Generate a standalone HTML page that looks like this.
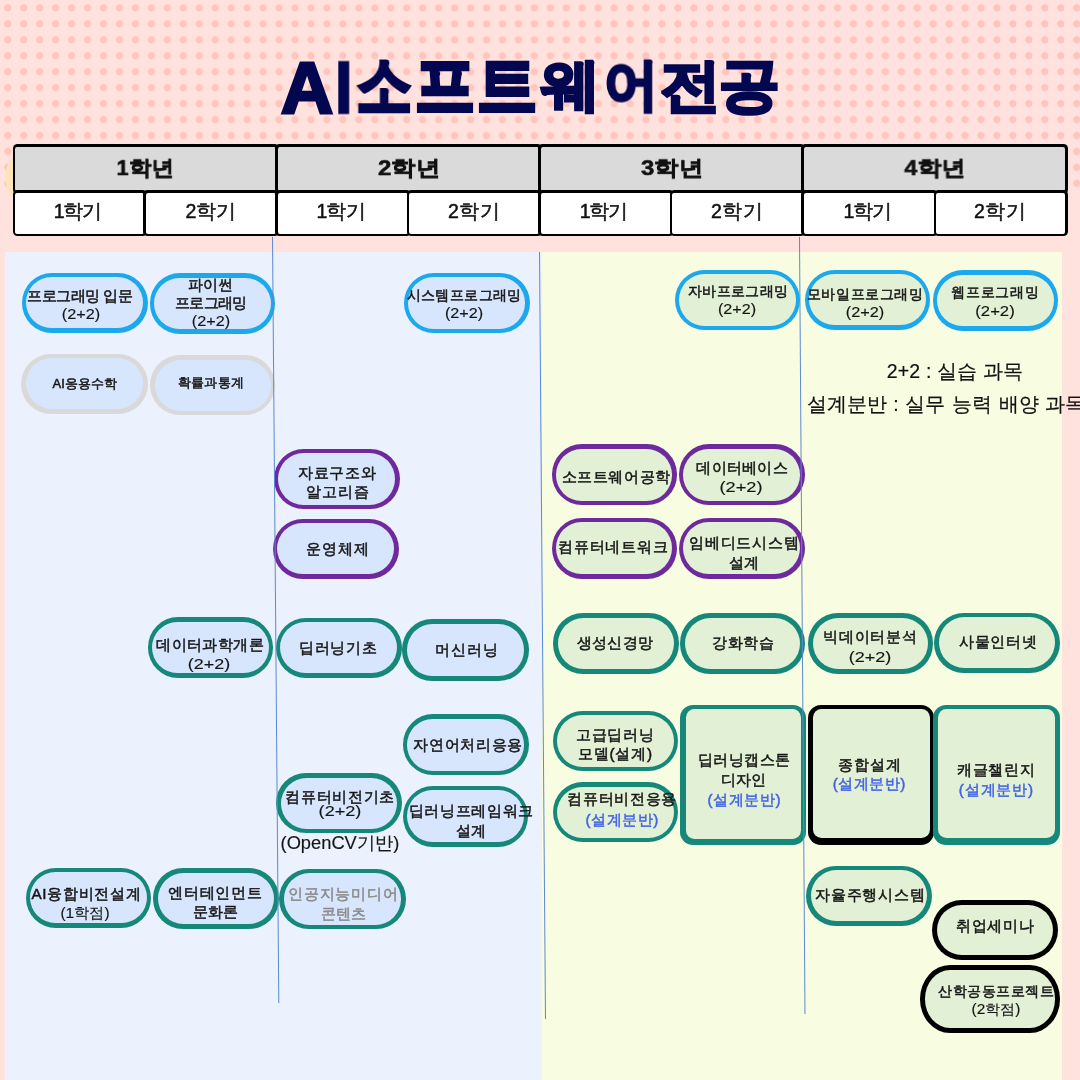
<!DOCTYPE html>
<html><head><meta charset="utf-8"><style>
*{margin:0;padding:0;box-sizing:border-box}
html,body{width:1080px;height:1080px;overflow:hidden;background:#FFE1DD;font-family:"Liberation Sans",sans-serif}
.a{position:absolute}
.dots{left:0;top:0;width:1080px;height:192px;background-image:radial-gradient(circle at 7.9px 7.9px,#FFC4BC 3.3px,transparent 3.9px);background-size:15.96px 15.96px}
.bx{position:absolute}
.t{position:absolute;white-space:nowrap;color:#151515;will-change:transform}
.hc{position:absolute;border:3px solid #000;border-radius:4px}
</style></head><body>

<div class="a dots"></div>
<div class="a" style="left:5px;top:148px;width:58px;height:58px;border-radius:50%;background:#FFE4B8"></div>
<div class="a" style="left:4.5px;top:252px;width:537px;height:828px;background:#EBF1FD"></div>
<div class="a" style="left:541.5px;top:252px;width:520.5px;height:828px;background:#F8FCE1"></div>
<div class="t ti" style="left:0;top:0;font-size:72px;line-height:72px;font-weight:bold;color:#03074F;-webkit-text-stroke:3px #03074F;transform-origin:0 0;transform:translate(280.9px,51.54px) scale(1.0019,1.0058)">A</div>
<div class="t ti" style="left:0;top:0;font-size:72px;line-height:72px;font-weight:bold;color:#03074F;-webkit-text-stroke:3px #03074F;transform-origin:0 0;transform:translate(335.56px,51.54px) scale(0.8143,1.0058)">I</div>
<div class="t ti" style="left:0;top:0;font-size:56px;line-height:56px;font-weight:bold;color:#03074F;-webkit-text-stroke:3px #03074F;transform-origin:0 0;transform:translate(356.5px,51.8px) scale(0.9911,1.2)">소</div>
<div class="t ti" style="left:0;top:0;font-size:56px;line-height:56px;font-weight:bold;color:#03074F;-webkit-text-stroke:3px #03074F;transform-origin:0 0;transform:translate(415.47px,51.69px) scale(1.0673,1.2262)">프</div>
<div class="t ti" style="left:0;top:0;font-size:56px;line-height:56px;font-weight:bold;color:#03074F;-webkit-text-stroke:3px #03074F;transform-origin:0 0;transform:translate(476.56px,51.69px) scale(1.0692,1.2262)">트</div>
<div class="t ti" style="left:0;top:0;font-size:56px;line-height:56px;font-weight:bold;color:#03074F;-webkit-text-stroke:3px #03074F;transform-origin:0 0;transform:translate(540.66px,56.59px) scale(1.0627,1.0037)">웨</div>
<div class="t ti" style="left:0;top:0;font-size:56px;line-height:56px;font-weight:bold;color:#03074F;-webkit-text-stroke:3px #03074F;transform-origin:0 0;transform:translate(604.08px,56.59px) scale(0.9745,1.0037)">어</div>
<div class="t ti" style="left:0;top:0;font-size:56px;line-height:56px;font-weight:bold;color:#03074F;-webkit-text-stroke:3px #03074F;transform-origin:0 0;transform:translate(660.12px,57.76px) scale(1.084,1.0132)">전</div>
<div class="t ti" style="left:0;top:0;font-size:56px;line-height:56px;font-weight:bold;color:#03074F;-webkit-text-stroke:3px #03074F;transform-origin:0 0;transform:translate(719.22px,55.59px) scale(1.0885,1.0423)">공</div>
<div class="a" style="left:12.7px;top:144.4px;width:266.3px;height:49.2px;background:#000;border-radius:4.5px"><div style="position:absolute;left:2.8px;top:2.8px;right:2.8px;bottom:2.8px;background:#DADADA;border-radius:2px"></div></div>
<div class="a" style="left:12.7px;top:189.8px;width:134.15px;height:46.6px;background:#000;border-radius:4.5px"><div style="position:absolute;left:2.8px;top:2.8px;right:2.8px;bottom:2.8px;background:#fff;border-radius:2px"></div></div>
<div class="a" style="left:142.85px;top:189.8px;width:136.15px;height:46.6px;background:#000;border-radius:4.5px"><div style="position:absolute;left:2.8px;top:2.8px;right:2.8px;bottom:2.8px;background:#fff;border-radius:2px"></div></div>
<div class="a" style="left:275px;top:144.4px;width:267px;height:49.2px;background:#000;border-radius:4.5px"><div style="position:absolute;left:2.8px;top:2.8px;right:2.8px;bottom:2.8px;background:#DADADA;border-radius:2px"></div></div>
<div class="a" style="left:275px;top:189.8px;width:135.5px;height:46.6px;background:#000;border-radius:4.5px"><div style="position:absolute;left:2.8px;top:2.8px;right:2.8px;bottom:2.8px;background:#fff;border-radius:2px"></div></div>
<div class="a" style="left:406.5px;top:189.8px;width:135.5px;height:46.6px;background:#000;border-radius:4.5px"><div style="position:absolute;left:2.8px;top:2.8px;right:2.8px;bottom:2.8px;background:#fff;border-radius:2px"></div></div>
<div class="a" style="left:538px;top:144.4px;width:267.4px;height:49.2px;background:#000;border-radius:4.5px"><div style="position:absolute;left:2.8px;top:2.8px;right:2.8px;bottom:2.8px;background:#DADADA;border-radius:2px"></div></div>
<div class="a" style="left:538px;top:189.8px;width:135.7px;height:46.6px;background:#000;border-radius:4.5px"><div style="position:absolute;left:2.8px;top:2.8px;right:2.8px;bottom:2.8px;background:#fff;border-radius:2px"></div></div>
<div class="a" style="left:669.7px;top:189.8px;width:135.7px;height:46.6px;background:#000;border-radius:4.5px"><div style="position:absolute;left:2.8px;top:2.8px;right:2.8px;bottom:2.8px;background:#fff;border-radius:2px"></div></div>
<div class="a" style="left:801.4px;top:144.4px;width:266.3px;height:49.2px;background:#000;border-radius:4.5px"><div style="position:absolute;left:2.8px;top:2.8px;right:2.8px;bottom:2.8px;background:#DADADA;border-radius:2px"></div></div>
<div class="a" style="left:801.4px;top:189.8px;width:136.15px;height:46.6px;background:#000;border-radius:4.5px"><div style="position:absolute;left:2.8px;top:2.8px;right:2.8px;bottom:2.8px;background:#fff;border-radius:2px"></div></div>
<div class="a" style="left:933.55px;top:189.8px;width:134.15px;height:46.6px;background:#000;border-radius:4.5px"><div style="position:absolute;left:2.8px;top:2.8px;right:2.8px;bottom:2.8px;background:#fff;border-radius:2px"></div></div>
<div class="bx" style="left:21.5px;top:272.8px;width:126.4px;height:60.2px;background:#1BA8ED;border-radius:30px/30.1px"><div style="position:absolute;left:4.5px;top:4.5px;right:4.5px;bottom:4.5px;background:#D7E6FC;border-radius:25.5px/25.6px"></div></div>
<div class="bx" style="left:149.5px;top:273.4px;width:125.8px;height:60.3px;background:#1BA8ED;border-radius:30px/30.15px"><div style="position:absolute;left:4.5px;top:4.5px;right:4.5px;bottom:4.5px;background:#D7E6FC;border-radius:25.5px/25.65px"></div></div>
<div class="bx" style="left:21.25px;top:353.75px;width:126.25px;height:60px;background:#D9D9D9;border-radius:30px/30px"><div style="position:absolute;left:4.5px;top:4.5px;right:4.5px;bottom:4.5px;background:#D7E6FC;border-radius:25.5px/25.5px"></div></div>
<div class="bx" style="left:150px;top:355px;width:125px;height:60px;background:#D9D9D9;border-radius:30px/30px"><div style="position:absolute;left:4.5px;top:4.5px;right:4.5px;bottom:4.5px;background:#D7E6FC;border-radius:25.5px/25.5px"></div></div>
<div class="bx" style="left:403.6px;top:272.5px;width:126px;height:60.5px;background:#1BA8ED;border-radius:30px/30.25px"><div style="position:absolute;left:4.5px;top:4.5px;right:4.5px;bottom:4.5px;background:#D7E6FC;border-radius:25.5px/25.75px"></div></div>
<div class="bx" style="left:674.9px;top:269.5px;width:125.4px;height:60.5px;background:#1BA8ED;border-radius:30px/30.25px"><div style="position:absolute;left:4.5px;top:4.5px;right:4.5px;bottom:4.5px;background:#E2F0D5;border-radius:25.5px/25.75px"></div></div>
<div class="bx" style="left:804.9px;top:269.8px;width:125.4px;height:60.2px;background:#1BA8ED;border-radius:30px/30.1px"><div style="position:absolute;left:4.5px;top:4.5px;right:4.5px;bottom:4.5px;background:#E2F0D5;border-radius:25.5px/25.6px"></div></div>
<div class="bx" style="left:932.8px;top:270.4px;width:125.7px;height:60.3px;background:#1BA8ED;border-radius:30px/30.15px"><div style="position:absolute;left:4.5px;top:4.5px;right:4.5px;bottom:4.5px;background:#E2F0D5;border-radius:25.5px/25.65px"></div></div>
<div class="bx" style="left:273.6px;top:448.6px;width:126.1px;height:60.8px;background:#6E2A9C;border-radius:30px/30.4px"><div style="position:absolute;left:4.5px;top:4.5px;right:4.5px;bottom:4.5px;background:#D7E6FC;border-radius:25.5px/25.9px"></div></div>
<div class="bx" style="left:272.6px;top:518.5px;width:126.4px;height:60.4px;background:#6E2A9C;border-radius:30px/30.2px"><div style="position:absolute;left:4.5px;top:4.5px;right:4.5px;bottom:4.5px;background:#D7E6FC;border-radius:25.5px/25.7px"></div></div>
<div class="bx" style="left:551.9px;top:444.4px;width:125.1px;height:60.7px;background:#6E2A9C;border-radius:30px/30.35px"><div style="position:absolute;left:4.5px;top:4.5px;right:4.5px;bottom:4.5px;background:#E2F0D5;border-radius:25.5px/25.85px"></div></div>
<div class="bx" style="left:551.9px;top:517.6px;width:125.1px;height:61.15px;background:#6E2A9C;border-radius:30px/30.57px"><div style="position:absolute;left:4.5px;top:4.5px;right:4.5px;bottom:4.5px;background:#E2F0D5;border-radius:25.5px/26.07px"></div></div>
<div class="bx" style="left:678.9px;top:444.4px;width:125.7px;height:60.7px;background:#6E2A9C;border-radius:30px/30.35px"><div style="position:absolute;left:4.5px;top:4.5px;right:4.5px;bottom:4.5px;background:#E2F0D5;border-radius:25.5px/25.85px"></div></div>
<div class="bx" style="left:678.9px;top:517.6px;width:125.7px;height:61.15px;background:#6E2A9C;border-radius:30px/30.57px"><div style="position:absolute;left:4.5px;top:4.5px;right:4.5px;bottom:4.5px;background:#E2F0D5;border-radius:25.5px/26.07px"></div></div>
<div class="bx" style="left:147.8px;top:617.3px;width:125.7px;height:60.7px;background:#15887A;border-radius:30px/30.35px"><div style="position:absolute;left:4.5px;top:4.5px;right:4.5px;bottom:4.5px;background:#D7E6FC;border-radius:25.5px/25.85px"></div></div>
<div class="bx" style="left:275.8px;top:617.7px;width:125.8px;height:60.3px;background:#15887A;border-radius:30px/30.15px"><div style="position:absolute;left:4.5px;top:4.5px;right:4.5px;bottom:4.5px;background:#D7E6FC;border-radius:25.5px/25.65px"></div></div>
<div class="bx" style="left:402.2px;top:619.3px;width:126.7px;height:61.4px;background:#15887A;border-radius:30px/30.7px"><div style="position:absolute;left:4.5px;top:4.5px;right:4.5px;bottom:4.5px;background:#D7E6FC;border-radius:25.5px/26.2px"></div></div>
<div class="bx" style="left:553px;top:613.4px;width:125.5px;height:60.3px;background:#15887A;border-radius:30px/30.15px"><div style="position:absolute;left:4.5px;top:4.5px;right:4.5px;bottom:4.5px;background:#E2F0D5;border-radius:25.5px/25.65px"></div></div>
<div class="bx" style="left:680px;top:613.4px;width:124.9px;height:60.3px;background:#15887A;border-radius:30px/30.15px"><div style="position:absolute;left:4.5px;top:4.5px;right:4.5px;bottom:4.5px;background:#E2F0D5;border-radius:25.5px/25.65px"></div></div>
<div class="bx" style="left:808px;top:613.4px;width:124.9px;height:60.3px;background:#15887A;border-radius:30px/30.15px"><div style="position:absolute;left:4.5px;top:4.5px;right:4.5px;bottom:4.5px;background:#E2F0D5;border-radius:25.5px/25.65px"></div></div>
<div class="bx" style="left:934px;top:612.8px;width:125.5px;height:60.2px;background:#15887A;border-radius:30px/30.1px"><div style="position:absolute;left:4.5px;top:4.5px;right:4.5px;bottom:4.5px;background:#E2F0D5;border-radius:25.5px/25.6px"></div></div>
<div class="bx" style="left:402.6px;top:714.4px;width:126.4px;height:60.7px;background:#15887A;border-radius:30px/30.35px"><div style="position:absolute;left:4.5px;top:4.5px;right:4.5px;bottom:4.5px;background:#D7E6FC;border-radius:25.5px/25.85px"></div></div>
<div class="bx" style="left:276px;top:773px;width:125.5px;height:60px;background:#15887A;border-radius:30px/30px"><div style="position:absolute;left:4.5px;top:4.5px;right:4.5px;bottom:4.5px;background:#D7E6FC;border-radius:25.5px/25.5px"></div></div>
<div class="bx" style="left:402.6px;top:785.6px;width:125.7px;height:61.1px;background:#15887A;border-radius:30px/30.55px"><div style="position:absolute;left:4.5px;top:4.5px;right:4.5px;bottom:4.5px;background:#D7E6FC;border-radius:25.5px/26.05px"></div></div>
<div class="bx" style="left:552.6px;top:710.8px;width:125.7px;height:60.7px;background:#15887A;border-radius:30px/30.35px"><div style="position:absolute;left:4.5px;top:4.5px;right:4.5px;bottom:4.5px;background:#E2F0D5;border-radius:25.5px/25.85px"></div></div>
<div class="bx" style="left:552.6px;top:782px;width:125.7px;height:60.4px;background:#15887A;border-radius:30px/30.2px"><div style="position:absolute;left:4.5px;top:4.5px;right:4.5px;bottom:4.5px;background:#E2F0D5;border-radius:25.5px/25.7px"></div></div>
<div class="bx" style="left:680.1px;top:704.6px;width:125.9px;height:140px;background:#15887A;border-radius:13px/13px"><div style="position:absolute;left:5.6px;top:4px;right:4.6px;bottom:6px;background:#E2F0D5;border-radius:8.5px/8.5px"></div></div>
<div class="bx" style="left:808.2px;top:704.6px;width:125.7px;height:140px;background:#000000;border-radius:13px/13px"><div style="position:absolute;left:4.4px;top:4px;right:4.2px;bottom:6.2px;background:#E2F0D5;border-radius:8.5px/8.5px"></div></div>
<div class="bx" style="left:933.2px;top:704.6px;width:126.4px;height:140px;background:#15887A;border-radius:13px/13px"><div style="position:absolute;left:4.4px;top:4px;right:4.4px;bottom:6.2px;background:#E2F0D5;border-radius:8.5px/8.5px"></div></div>
<div class="bx" style="left:25.8px;top:867.8px;width:125.7px;height:60.2px;background:#15887A;border-radius:30px/30.1px"><div style="position:absolute;left:4.5px;top:4.5px;right:4.5px;bottom:4.5px;background:#D7E6FC;border-radius:25.5px/25.6px"></div></div>
<div class="bx" style="left:153.1px;top:868.4px;width:125.8px;height:60.3px;background:#15887A;border-radius:30px/30.15px"><div style="position:absolute;left:4.5px;top:4.5px;right:4.5px;bottom:4.5px;background:#D7E6FC;border-radius:25.5px/25.65px"></div></div>
<div class="bx" style="left:279.2px;top:868.7px;width:126.6px;height:60.5px;background:#15887A;border-radius:30px/30.25px"><div style="position:absolute;left:4.5px;top:4.5px;right:4.5px;bottom:4.5px;background:#D7E6FC;border-radius:25.5px/25.75px"></div></div>
<div class="bx" style="left:806px;top:865.8px;width:125.5px;height:60.2px;background:#15887A;border-radius:30px/30.1px"><div style="position:absolute;left:4.5px;top:4.5px;right:4.5px;bottom:4.5px;background:#E2F0D5;border-radius:25.5px/25.6px"></div></div>
<div class="bx" style="left:932px;top:899.7px;width:125.7px;height:60.5px;background:#000000;border-radius:30px/30.25px"><div style="position:absolute;left:5px;top:5px;right:5px;bottom:5px;background:#E2F0D5;border-radius:25px/25.25px"></div></div>
<div class="bx" style="left:919.8px;top:964.9px;width:139.8px;height:67.7px;background:#000000;border-radius:30px/33.85px"><div style="position:absolute;left:5px;top:5px;right:5px;bottom:5px;background:#E2F0D5;border-radius:25px/28.85px"></div></div>
<div class="t" id="L0" style="left:-69.63px;top:289.15px;width:300px;text-align:center;font-size:14.5px;line-height:14.5px;color:#151515;letter-spacing:-0.53px;text-indent:-0.53px;-webkit-text-stroke:0.5px #151515">프로그래밍 입문</div>
<div class="t" id="L1" style="left:-69px;top:307.07px;width:300px;text-align:center;font-size:14.5px;line-height:14.5px;color:#151515;transform:scaleX(1.1210);-webkit-text-stroke:0.15px #151515">(2+2)</div>
<div class="t" id="L2" style="left:59.67px;top:278.21px;width:300px;text-align:center;font-size:14.5px;line-height:14.5px;color:#151515;-webkit-text-stroke:0.5px #151515">파이썬</div>
<div class="t" id="L3" style="left:60.98px;top:295.89px;width:300px;text-align:center;font-size:14.5px;line-height:14.5px;color:#151515;letter-spacing:-0.64px;text-indent:-0.64px;-webkit-text-stroke:0.5px #151515">프로그래밍</div>
<div class="t" id="L4" style="left:61.22px;top:314.43px;width:300px;text-align:center;font-size:14.5px;line-height:14.5px;color:#151515;transform:scaleX(1.1210);-webkit-text-stroke:0.15px #151515">(2+2)</div>
<div class="t" id="L5" style="left:-65px;top:376.6px;width:300px;text-align:center;font-size:13px;line-height:13px;color:#151515;letter-spacing:0.1px;text-indent:0.1px;-webkit-text-stroke:0.5px #151515">AI응용수학</div>
<div class="t" id="L6" style="left:61.08px;top:375.9px;width:300px;text-align:center;font-size:13px;line-height:13px;color:#151515;letter-spacing:0.44px;text-indent:0.44px;-webkit-text-stroke:0.5px #151515">확률과통계</div>
<div class="t" id="L7" style="left:313.6px;top:288.07px;width:300px;text-align:center;font-size:14.3px;line-height:14.3px;color:#151515;letter-spacing:0.41px;text-indent:0.41px;-webkit-text-stroke:0.5px #151515">시스템프로그래밍</div>
<div class="t" id="L8" style="left:313.7px;top:305.87px;width:300px;text-align:center;font-size:14.3px;line-height:14.3px;color:#151515;transform:scaleX(1.1312);-webkit-text-stroke:0.15px #151515">(2+2)</div>
<div class="t" id="L9" style="left:587.73px;top:283.61px;width:300px;text-align:center;font-size:14.3px;line-height:14.3px;color:#151515;letter-spacing:0.37px;text-indent:0.37px;-webkit-text-stroke:0.5px #151515">자바프로그래밍</div>
<div class="t" id="L10" style="left:587.38px;top:301.86px;width:300px;text-align:center;font-size:14.3px;line-height:14.3px;color:#151515;transform:scaleX(1.1312);-webkit-text-stroke:0.15px #151515">(2+2)</div>
<div class="t" id="L11" style="left:714.96px;top:286.83px;width:300px;text-align:center;font-size:14.3px;line-height:14.3px;color:#151515;letter-spacing:0.6px;text-indent:0.6px;-webkit-text-stroke:0.5px #151515">모바일프로그래밍</div>
<div class="t" id="L12" style="left:714.7px;top:305.43px;width:300px;text-align:center;font-size:14.3px;line-height:14.3px;color:#151515;transform:scaleX(1.1385);-webkit-text-stroke:0.15px #151515">(2+2)</div>
<div class="t" id="L13" style="left:844.81px;top:285.03px;width:300px;text-align:center;font-size:14.3px;line-height:14.3px;color:#151515;letter-spacing:0.71px;text-indent:0.71px;-webkit-text-stroke:0.5px #151515">웹프로그래밍</div>
<div class="t" id="L14" style="left:845.28px;top:303.61px;width:300px;text-align:center;font-size:14.3px;line-height:14.3px;color:#151515;transform:scaleX(1.1653);-webkit-text-stroke:0.15px #151515">(2+2)</div>
<div class="t" id="L15" style="left:186.73px;top:464.93px;width:300px;text-align:center;font-size:15.3px;line-height:15.3px;color:#151515;letter-spacing:0.85px;text-indent:0.85px;-webkit-text-stroke:0.5px #151515">자료구조와</div>
<div class="t" id="L16" style="left:186.75px;top:483.77px;width:300px;text-align:center;font-size:15.3px;line-height:15.3px;color:#151515;letter-spacing:1px;text-indent:1px;-webkit-text-stroke:0.5px #151515">알고리즘</div>
<div class="t" id="L17" style="left:187.35px;top:541.37px;width:300px;text-align:center;font-size:15.3px;line-height:15.3px;color:#151515;letter-spacing:1px;text-indent:1px;-webkit-text-stroke:0.5px #151515">운영체제</div>
<div class="t" id="L18" style="left:465.62px;top:468.83px;width:300px;text-align:center;font-size:15.3px;line-height:15.3px;color:#151515;letter-spacing:0.58px;text-indent:0.58px;-webkit-text-stroke:0.5px #151515">소프트웨어공학</div>
<div class="t" id="L19" style="left:463.26px;top:538.68px;width:300px;text-align:center;font-size:15.3px;line-height:15.3px;color:#151515;letter-spacing:0.8px;text-indent:0.8px;-webkit-text-stroke:0.5px #151515">컴퓨터네트워크</div>
<div class="t" id="L20" style="left:591.62px;top:460.31px;width:300px;text-align:center;font-size:15.3px;line-height:15.3px;color:#151515;letter-spacing:0.32px;text-indent:0.32px;-webkit-text-stroke:0.5px #151515">데이터베이스</div>
<div class="t" id="L21" style="left:590.65px;top:479.33px;width:300px;text-align:center;font-size:15.3px;line-height:15.3px;color:#151515;transform:scaleX(1.1881);-webkit-text-stroke:0.15px #151515">(2+2)</div>
<div class="t" id="L22" style="left:594.02px;top:535.27px;width:300px;text-align:center;font-size:15.3px;line-height:15.3px;color:#151515;letter-spacing:0.69px;text-indent:0.69px;-webkit-text-stroke:0.5px #151515">임베디드시스템</div>
<div class="t" id="L23" style="left:594.26px;top:555.09px;width:300px;text-align:center;font-size:15.3px;line-height:15.3px;color:#151515;-webkit-text-stroke:0.5px #151515">설계</div>
<div class="t" id="L24" style="left:59.69px;top:636.87px;width:300px;text-align:center;font-size:15.3px;line-height:15.3px;color:#151515;letter-spacing:0.49px;text-indent:0.49px;-webkit-text-stroke:0.5px #151515">데이터과학개론</div>
<div class="t" id="L25" style="left:59.12px;top:655.98px;width:300px;text-align:center;font-size:15.3px;line-height:15.3px;color:#151515;transform:scaleX(1.1728);-webkit-text-stroke:0.15px #151515">(2+2)</div>
<div class="t" id="L26" style="left:188.32px;top:640.45px;width:300px;text-align:center;font-size:15.3px;line-height:15.3px;color:#151515;letter-spacing:0.72px;text-indent:0.72px;-webkit-text-stroke:0.5px #151515">딥러닝기초</div>
<div class="t" id="L27" style="left:316.28px;top:642.17px;width:300px;text-align:center;font-size:15.3px;line-height:15.3px;color:#151515;letter-spacing:1px;text-indent:1px;-webkit-text-stroke:0.5px #151515">머신러닝</div>
<div class="t" id="L28" style="left:465px;top:635.31px;width:300px;text-align:center;font-size:15.3px;line-height:15.3px;color:#151515;letter-spacing:0.41px;text-indent:0.41px;-webkit-text-stroke:0.5px #151515">생성신경망</div>
<div class="t" id="L29" style="left:592.98px;top:634.75px;width:300px;text-align:center;font-size:15.3px;line-height:15.3px;color:#151515;letter-spacing:0.9px;text-indent:0.9px;-webkit-text-stroke:0.5px #151515">강화학습</div>
<div class="t" id="L30" style="left:719.8px;top:629.01px;width:300px;text-align:center;font-size:15.3px;line-height:15.3px;color:#151515;letter-spacing:0.76px;text-indent:0.76px;-webkit-text-stroke:0.5px #151515">빅데이터분석</div>
<div class="t" id="L31" style="left:720px;top:648.67px;width:300px;text-align:center;font-size:15.3px;line-height:15.3px;color:#151515;transform:scaleX(1.1796);-webkit-text-stroke:0.15px #151515">(2+2)</div>
<div class="t" id="L32" style="left:847.5px;top:634.39px;width:300px;text-align:center;font-size:15.3px;line-height:15.3px;color:#151515;letter-spacing:0.54px;text-indent:0.54px;-webkit-text-stroke:0.5px #151515">사물인터넷</div>
<div class="t" id="L33" style="left:317.71px;top:737.33px;width:300px;text-align:center;font-size:15.3px;line-height:15.3px;color:#151515;letter-spacing:0.67px;text-indent:0.67px;-webkit-text-stroke:0.5px #151515">자연어처리응용</div>
<div class="t" id="L34" style="left:189.98px;top:788.55px;width:300px;text-align:center;font-size:15.3px;line-height:15.3px;color:#151515;letter-spacing:0.67px;text-indent:0.67px;-webkit-text-stroke:0.5px #151515">컴퓨터비전기초</div>
<div class="t" id="L35" style="left:189.76px;top:802.76px;width:300px;text-align:center;font-size:15.3px;line-height:15.3px;color:#151515;transform:scaleX(1.1830);-webkit-text-stroke:0.15px #151515">(2+2)</div>
<div class="t" id="L36" style="left:189.76px;top:834.02px;width:300px;text-align:center;font-size:18px;line-height:18px;color:#151515;transform:scaleX(1.0161);-webkit-text-stroke:0.15px #151515">(OpenCV기반)</div>
<div class="t" id="L37" style="left:321.32px;top:803.33px;width:300px;text-align:center;font-size:15.3px;line-height:15.3px;color:#151515;letter-spacing:0.62px;text-indent:0.62px;-webkit-text-stroke:0.5px #151515">딥러닝프레임워크</div>
<div class="t" id="L38" style="left:320.5px;top:823.42px;width:300px;text-align:center;font-size:15.3px;line-height:15.3px;color:#151515;-webkit-text-stroke:0.5px #151515">설계</div>
<div class="t" id="L39" style="left:465.28px;top:726.63px;width:300px;text-align:center;font-size:15.3px;line-height:15.3px;color:#151515;letter-spacing:0.86px;text-indent:0.86px;-webkit-text-stroke:0.5px #151515">고급딥러닝</div>
<div class="t" id="L40" style="left:465px;top:745.67px;width:300px;text-align:center;font-size:15.3px;line-height:15.3px;color:#151515;letter-spacing:0.8px;text-indent:0.8px;-webkit-text-stroke:0.5px #151515">모델(설계)</div>
<div class="t" id="L41" style="left:471.6px;top:790.97px;width:300px;text-align:center;font-size:15.3px;line-height:15.3px;color:#151515;letter-spacing:0.67px;text-indent:0.67px;-webkit-text-stroke:0.5px #151515">컴퓨터비전응용</div>
<div class="t" id="L42" style="left:471.75px;top:811.69px;width:300px;text-align:center;font-size:15.3px;line-height:15.3px;color:#4262E4;letter-spacing:0.54px;text-indent:0.54px;-webkit-text-stroke:0.45px #4262E4">(설계분반)</div>
<div class="t" id="L43" style="left:593.84px;top:751.81px;width:300px;text-align:center;font-size:15.3px;line-height:15.3px;color:#151515;letter-spacing:0.57px;text-indent:0.57px;-webkit-text-stroke:0.5px #151515">딥러닝캡스톤</div>
<div class="t" id="L44" style="left:593.26px;top:772.19px;width:300px;text-align:center;font-size:15.3px;line-height:15.3px;color:#151515;-webkit-text-stroke:0.5px #151515">디자인</div>
<div class="t" id="L45" style="left:594.1px;top:792.09px;width:300px;text-align:center;font-size:15.3px;line-height:15.3px;color:#4262E4;letter-spacing:0.56px;text-indent:0.56px;-webkit-text-stroke:0.45px #4262E4">(설계분반)</div>
<div class="t" id="L46" style="left:719.21px;top:756.63px;width:300px;text-align:center;font-size:15.3px;line-height:15.3px;color:#151515;letter-spacing:1px;text-indent:1px;-webkit-text-stroke:0.5px #151515">종합설계</div>
<div class="t" id="L47" style="left:718.88px;top:775.99px;width:300px;text-align:center;font-size:15.3px;line-height:15.3px;color:#4262E4;letter-spacing:0.46px;text-indent:0.46px;-webkit-text-stroke:0.45px #4262E4">(설계분반)</div>
<div class="t" id="L48" style="left:846.29px;top:762.19px;width:300px;text-align:center;font-size:15.3px;line-height:15.3px;color:#151515;letter-spacing:0.88px;text-indent:0.88px;-webkit-text-stroke:0.5px #151515">캐글챌린지</div>
<div class="t" id="L49" style="left:845.62px;top:781.81px;width:300px;text-align:center;font-size:15.3px;line-height:15.3px;color:#4262E4;letter-spacing:0.85px;text-indent:0.85px;-webkit-text-stroke:0.45px #4262E4">(설계분반)</div>
<div class="t" id="L50" style="left:-64.02px;top:885.95px;width:300px;text-align:center;font-size:15.3px;line-height:15.3px;color:#151515;letter-spacing:0.68px;text-indent:0.68px;-webkit-text-stroke:0.5px #151515">AI융합비전설계</div>
<div class="t" id="L51" style="left:-65.25px;top:905.21px;width:300px;text-align:center;font-size:15.3px;line-height:15.3px;color:#151515;transform:scaleX(1.0104);-webkit-text-stroke:0.15px #151515">(1학점)</div>
<div class="t" id="L52" style="left:64.5px;top:885.22px;width:300px;text-align:center;font-size:15.3px;line-height:15.3px;color:#151515;letter-spacing:0.77px;text-indent:0.77px;-webkit-text-stroke:0.5px #151515">엔터테인먼트</div>
<div class="t" id="L53" style="left:64.79px;top:904.21px;width:300px;text-align:center;font-size:15.3px;line-height:15.3px;color:#151515;-webkit-text-stroke:0.5px #151515">문화론</div>
<div class="t" id="L54" style="left:192.5px;top:885.77px;width:300px;text-align:center;font-size:15.3px;line-height:15.3px;color:#8A8A8A;letter-spacing:0.93px;text-indent:0.93px;-webkit-text-stroke:0.5px #8A8A8A">인공지능미디어</div>
<div class="t" id="L55" style="left:192.68px;top:906.07px;width:300px;text-align:center;font-size:15.3px;line-height:15.3px;color:#8A8A8A;-webkit-text-stroke:0.5px #8A8A8A">콘텐츠</div>
<div class="t" id="L56" style="left:720.08px;top:887.19px;width:300px;text-align:center;font-size:15.3px;line-height:15.3px;color:#151515;letter-spacing:0.8px;text-indent:0.8px;-webkit-text-stroke:0.5px #151515">자율주행시스템</div>
<div class="t" id="L57" style="left:844.6px;top:918.17px;width:300px;text-align:center;font-size:15.3px;line-height:15.3px;color:#151515;letter-spacing:0.6px;text-indent:0.6px;-webkit-text-stroke:0.5px #151515">취업세미나</div>
<div class="t" id="L58" style="left:845.77px;top:983.83px;width:300px;text-align:center;font-size:14.3px;line-height:14.3px;color:#151515;letter-spacing:0.45px;text-indent:0.45px;-webkit-text-stroke:0.5px #151515">산학공동프로젝트</div>
<div class="t" id="L59" style="left:845.84px;top:1002.28px;width:300px;text-align:center;font-size:14.3px;line-height:14.3px;color:#151515;transform:scaleX(1.0761);-webkit-text-stroke:0.15px #151515">(2학점)</div>
<div class="t" id="L60" style="left:804.88px;top:362.26px;width:300px;text-align:center;font-size:19.5px;line-height:19.5px;color:#111;letter-spacing:0.18px;text-indent:0.18px;-webkit-text-stroke:0.2px #111">2+2 : 실습 과목</div>
<div class="t" id="L61" style="left:796.13px;top:394.91px;width:300px;text-align:center;font-size:19.5px;line-height:19.5px;color:#111;word-spacing:1.2px;-webkit-text-stroke:0.2px #111">설계분반 : 실무 능력 배양 과목</div>
<div class="t" id="L62" style="left:-4.7px;top:156.55px;width:300px;text-align:center;font-size:23.5px;line-height:23.5px;color:#111;transform:scaleX(0.9362);font-weight:bold;-webkit-text-stroke:0.6px #111;transform:scale(0.9362,0.875)">1학년</div>
<div class="t" id="L63" style="left:258.74px;top:157.46px;width:300px;text-align:center;font-size:23.5px;line-height:23.5px;color:#111;transform:scaleX(1.0203);font-weight:bold;-webkit-text-stroke:0.6px #111;transform:scale(1.0203,0.875)">2학년</div>
<div class="t" id="L64" style="left:521.56px;top:157.19px;width:300px;text-align:center;font-size:23.5px;line-height:23.5px;color:#111;transform:scaleX(1.0203);font-weight:bold;-webkit-text-stroke:0.6px #111;transform:scale(1.0203,0.875)">3학년</div>
<div class="t" id="L65" style="left:785.4px;top:157.19px;width:300px;text-align:center;font-size:23.5px;line-height:23.5px;color:#111;transform:scaleX(1.0033);font-weight:bold;-webkit-text-stroke:0.6px #111;transform:scale(1.0033,0.875)">4학년</div>
<div class="t" id="L66" style="left:-71.9px;top:202.35px;width:300px;text-align:center;font-size:19.5px;line-height:19.5px;color:#111;letter-spacing:-1.25px;text-indent:-1.25px;-webkit-text-stroke:0.5px #111">1학기</div>
<div class="t" id="L67" style="left:60.5px;top:202.35px;width:300px;text-align:center;font-size:19.5px;line-height:19.5px;color:#111;-webkit-text-stroke:0.5px #111">2학기</div>
<div class="t" id="L68" style="left:191px;top:202.35px;width:300px;text-align:center;font-size:19.5px;line-height:19.5px;color:#111;letter-spacing:-0.85px;text-indent:-0.85px;-webkit-text-stroke:0.5px #111">1학기</div>
<div class="t" id="L69" style="left:323.56px;top:202.35px;width:300px;text-align:center;font-size:19.5px;line-height:19.5px;color:#111;letter-spacing:0.61px;text-indent:0.61px;-webkit-text-stroke:0.5px #111">2학기</div>
<div class="t" id="L70" style="left:454.27px;top:202.35px;width:300px;text-align:center;font-size:19.5px;line-height:19.5px;color:#111;letter-spacing:-1.12px;text-indent:-1.12px;-webkit-text-stroke:0.5px #111">1학기</div>
<div class="t" id="L71" style="left:586.8px;top:202.35px;width:300px;text-align:center;font-size:19.5px;line-height:19.5px;color:#111;letter-spacing:0.46px;text-indent:0.46px;-webkit-text-stroke:0.5px #111">2학기</div>
<div class="t" id="L72" style="left:717.92px;top:202.35px;width:300px;text-align:center;font-size:19.5px;line-height:19.5px;color:#111;letter-spacing:-0.97px;text-indent:-0.97px;-webkit-text-stroke:0.5px #111">1학기</div>
<div class="t" id="L73" style="left:849.88px;top:202.35px;width:300px;text-align:center;font-size:19.5px;line-height:19.5px;color:#111;letter-spacing:0.61px;text-indent:0.61px;-webkit-text-stroke:0.5px #111">2학기</div>
<div class="a" style="left:271.8px;top:236.5px;width:1.4px;height:766.13px;background:#5B8AD0;transform-origin:0 0;transform:rotate(-0.4712deg)"></div>
<div class="a" style="left:538.8px;top:252px;width:1.4px;height:767.02px;background:#5B8AD0;transform-origin:0 0;transform:rotate(-0.4482deg)"></div>
<div class="a" style="left:799px;top:236.5px;width:1.4px;height:776.52px;background:#5B8AD0;transform-origin:0 0;transform:rotate(-0.4058deg)"></div>
</body></html>
